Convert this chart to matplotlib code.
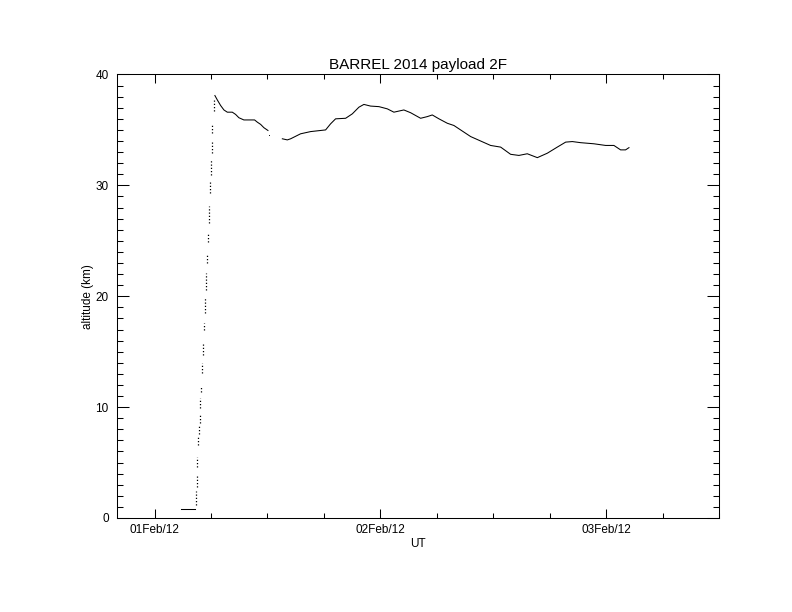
"""BARREL 2014 payload 2F altitude vs UT (IDL-style line plot)."""
from datetime import datetime, timedelta

import matplotlib
matplotlib.use("Agg")
import matplotlib.dates as mdates
import matplotlib.pyplot as plt

T0 = datetime(2014, 2, 1)  # hours below are counted from 01 Feb 00:00 UT

# ground segment before launch
ground_hours = [14.76, 16.28]
ground_alt = [0.8, 0.8]

# ascent: sparse packets, each packet (time, bottom alt, top alt)
ascent_hours = [16.36, 16.47, 16.54, 16.60, 16.68, 16.78, 16.86, 16.96, 17.07,
                17.13, 17.24, 17.35, 17.50, 17.56, 17.67, 17.77, 17.88, 17.99,
                18.06, 18.13, 18.30]
ascent_bot = [1.2, 2.8, 4.6, 6.6, 7.6, 8.6, 9.9, 11.4, 13.1, 14.7, 17.0, 18.5,
              20.6, 23.0, 24.9, 26.6, 29.3, 30.9, 32.9, 34.7, 36.7]
ascent_top = [2.4, 3.9, 5.5, 7.3, 8.3, 9.4, 10.8, 11.9, 14.0, 15.8, 17.6, 19.8,
              22.1, 23.8, 25.7, 28.1, 30.5, 32.3, 33.9, 35.4, 37.7]

# first float segment
float1_hours = [18.41, 18.67, 19.02, 19.37, 19.73, 20.26, 20.61, 20.96, 21.49,
                22.03, 22.63, 22.92, 23.27, 23.62, 24.05]
float1_alt = [38.1, 37.7, 37.2, 36.8, 36.6, 36.6, 36.4, 36.1, 35.9, 35.9, 35.9,
              35.7, 35.5, 35.2, 34.95]

# lone packet after the first segment
lone_hours = [24.15]
lone_alt = [34.5]

# second float segment
float2_hours = [25.58, 26.11, 26.46, 27.52, 28.59, 30.18, 30.71, 31.24, 32.31,
                33.02, 33.72, 34.25, 34.96, 35.85, 36.74, 37.44, 38.50, 39.22,
                40.28, 40.99, 41.52, 42.23, 43.12, 43.82, 44.71, 45.60, 46.66,
                47.72, 48.79, 49.85, 50.73, 51.62, 52.69, 53.75, 54.81, 55.70,
                56.41, 57.29, 58.70, 59.95, 60.83, 61.54, 62.07, 62.43]
float2_alt = [34.2, 34.1, 34.2, 34.65, 34.85, 35.0, 35.55, 36.0, 36.05, 36.45,
              37.05, 37.3, 37.15, 37.1, 36.9, 36.6, 36.8, 36.55, 36.05, 36.2,
              36.35, 36.0, 35.6, 35.4, 34.9, 34.4, 34.0, 33.6, 33.45, 32.8, 32.7,
              32.85, 32.5, 32.9, 33.45, 33.9, 33.95, 33.85, 33.75, 33.6, 33.6,
              33.2, 33.2, 33.4]


def to_dt(hours):
    return [T0 + timedelta(hours=h) for h in hours]


plt.rcParams["font.family"] = ["Liberation Sans", "DejaVu Sans"]

fig = plt.figure(figsize=(7.92, 6.12), dpi=100)
ax = fig.add_axes([0.1477, 0.1536, 0.7601, 0.7247])

ax.plot(to_dt(ground_hours), ground_alt, color="black", lw=0.75)
for h, lo, hi in zip(ascent_hours, ascent_bot, ascent_top):
    ax.plot(to_dt([h, h]), [lo, hi], color="black", lw=0.9,
            linestyle=(0, (1, 1.6)))
ax.plot(to_dt(float1_hours), float1_alt, color="black", lw=0.75)
ax.plot(to_dt(lone_hours), lone_alt, "s", color="black", ms=0.6, mew=0)
ax.plot(to_dt(float2_hours), float2_alt, color="black", lw=0.75)

ax.set_xlim(datetime(2014, 2, 1, 8), datetime(2014, 2, 4, 0))
ax.set_ylim(0, 40)

ax.xaxis.set_major_locator(mdates.HourLocator(byhour=[12]))
ax.xaxis.set_minor_locator(mdates.HourLocator(byhour=[0, 6, 18]))
ax.xaxis.set_major_formatter(mdates.DateFormatter("%d%b/%H"))
ax.set_yticks([0, 10, 20, 30, 40])
ax.set_yticks(range(0, 41), minor=True)

ax.tick_params(axis="both", which="both", direction="in", top=True,
               right=True, width=0.75, colors="black")
ax.tick_params(axis="x", which="major", length=6.5, labelsize=8.5, pad=4)
ax.tick_params(axis="x", which="minor", length=3.3)
ax.tick_params(axis="y", which="major", length=8.7, labelsize=8.5, pad=6)
ax.tick_params(axis="y", which="minor", length=4.3)
for s in ax.spines.values():
    s.set_linewidth(0.75)

ax.set_xlabel("UT", fontsize=8.5, labelpad=2)
ax.set_ylabel("altitude (km)", fontsize=8.5)
ax.yaxis.set_label_coords(-0.039, 0.5)
ax.set_title("BARREL 2014 payload 2F", fontsize=11, pad=4)

fig.savefig("out.png", dpi=100)
